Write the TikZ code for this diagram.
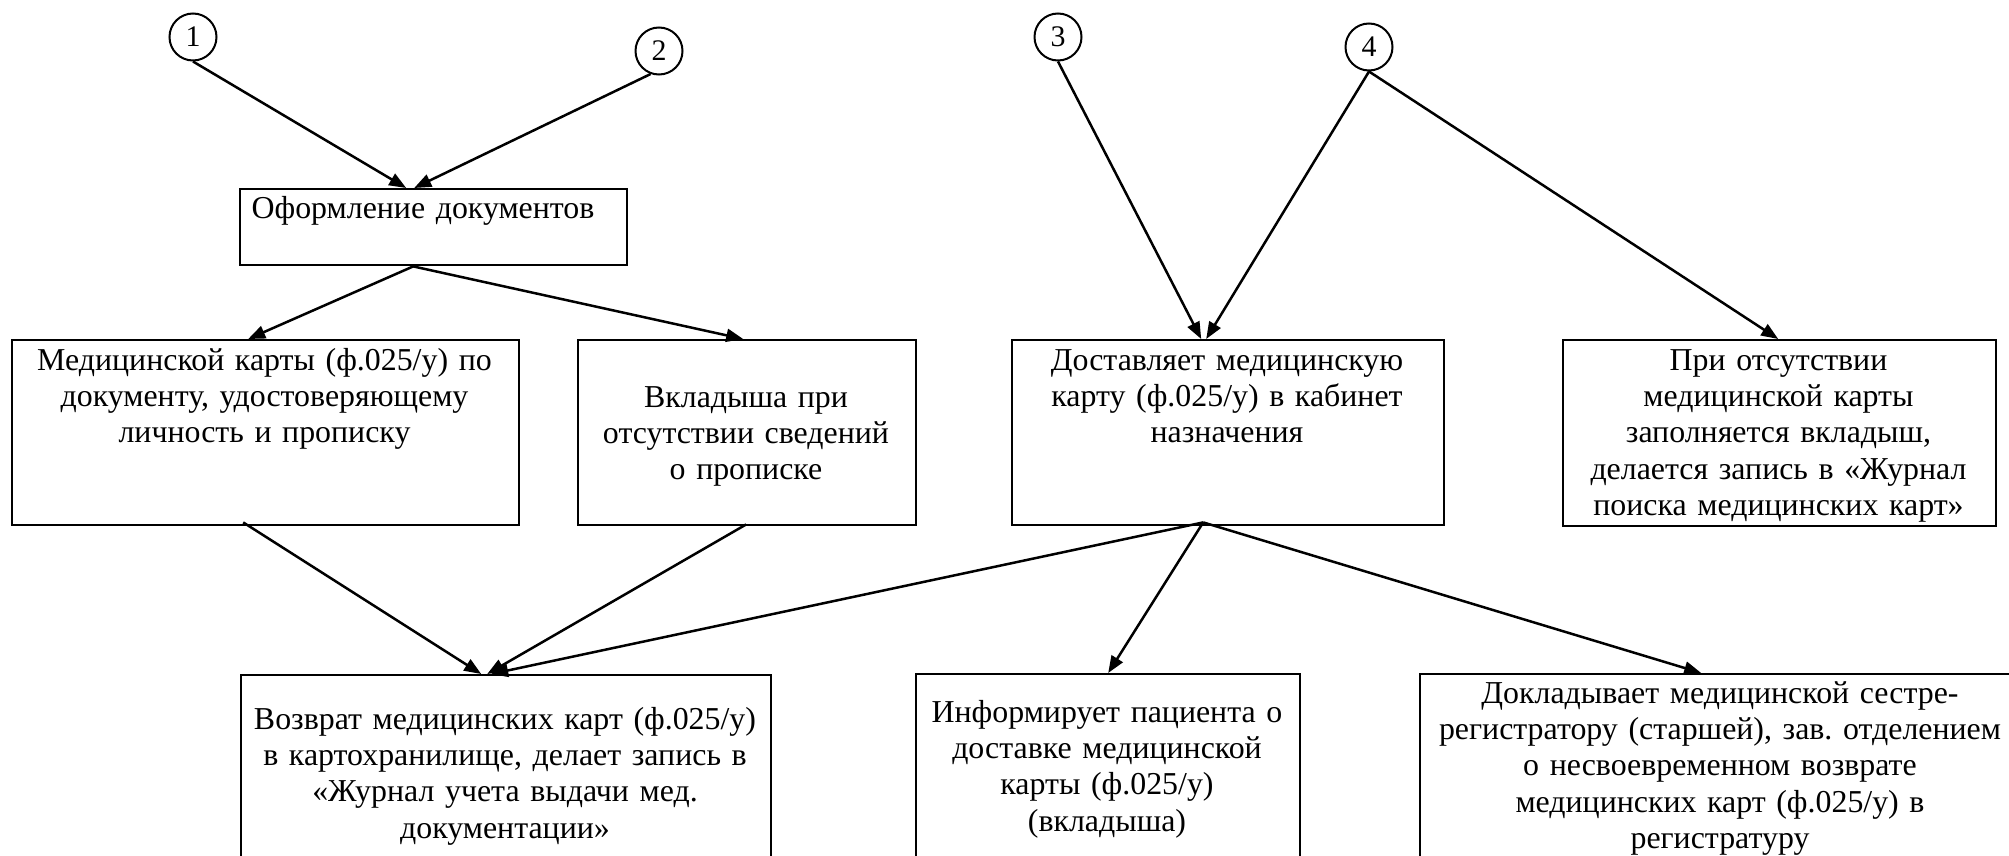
\documentclass[tikz,border=0pt]{standalone}
\usepackage{fontspec}
\setmainfont{Liberation Serif}
\usetikzlibrary{arrows.meta}
\frenchspacing
\tikzset{
  box/.style={draw, line width=2.4bp, rectangle, inner sep=0pt, anchor=north west},
  num/.style={draw, circle, line width=2bp, minimum size=47bp, inner sep=0pt, font=\fontsize{30}{33}\selectfont},
  txt/.style={anchor=base, inner sep=0pt, align=center, font=\fontsize{32}{36.6}\selectfont},
  arr/.style={line width=2.5bp, -{Triangle[length=17bp,width=13bp]}}
}
\begin{document}
\begin{tikzpicture}[x=1bp,y=-1bp]
\clip (0,0) rectangle (2009,856);
\fill[white] (0,0) rectangle (2009,856);
% circles
\node[num] (c1) at (193,37) {1};
\node[num] (c2) at (659,51) {2};
\node[num] (c3) at (1058,37) {3};
\node[num] (c4) at (1369,47) {4};
% boxes
\node[box, minimum width=387bp, minimum height=76bp] (A) at (239,188) {};
\node[box, minimum width=507bp, minimum height=185bp] (B) at (11,339) {};
\node[box, minimum width=338bp, minimum height=185bp] (C) at (577,339) {};
\node[box, minimum width=432bp, minimum height=185bp] (G) at (1011,339) {};
\node[box, minimum width=433bp, minimum height=186bp] (H) at (1562,339) {};
\node[box, minimum width=530bp, minimum height=220bp] (D) at (240,674) {};
\node[box, minimum width=384bp, minimum height=220bp] (E) at (915,673) {};
\node[box, minimum width=602bp, minimum height=220bp] (F) at (1419,673) {};
% texts
\node[txt, text width=380bp] (At) at (423,218) {Оформление документов};
\node[txt, text width=500bp] (Bt) at (264.5,370) {Медицинской карты (ф.025/у) по\\документу, удостоверяющему\\личность и прописку};
\node[txt, text width=330bp] (Ct) at (746,407) {Вкладыша при\\отсутствии сведений\\о прописке};
\node[txt, text width=425bp] (Gt) at (1227,370) {Доставляет медицинскую\\карту (ф.025/у) в кабинет\\назначения};
\node[txt, text width=425bp] (Ht) at (1778.5,370) {При отсутствии\\медицинской карты\\заполняется вкладыш,\\делается запись в «Журнал\\поиска медицинских карт»};
\node[txt, text width=525bp] (Dt) at (505,729) {Возврат медицинских карт (ф.025/у)\\в картохранилище, делает запись в\\«Журнал учета выдачи мед.\\документации»};
\node[txt, text width=380bp] (Et) at (1107,722) {Информирует пациента о\\доставке медицинской\\карты (ф.025/у)\\(вкладыша)};
\node[txt, text width=600bp] (Ft) at (1720,703) {Докладывает медицинской сестре-\\регистратору (старшей), зав. отделением\\о несвоевременном возврате\\медицинских карт (ф.025/у) в\\регистратуру};
% connectors
\draw[arr] (c1.south) -- ([xshift=-27.5bp]A.north);
\draw[arr] (c2.250) -- ([xshift=-19.5bp]A.north);
\draw[arr] ([xshift=-20.5bp]A.south) -- ([xshift=-17.5bp]B.north);
\draw[arr] ([xshift=-20.5bp]A.south) -- ([xshift=-4bp]C.north);
\draw[arr] ([xshift=-22.5bp,yshift=4bp]B.south) -- ([xshift=-25bp]D.north);
\draw[arr] ([xshift=-1bp,yshift=2bp]C.south) -- ([xshift=-19bp]D.north);
\draw[arr] ([xshift=-25bp,yshift=4bp]G.south) -- ([xshift=-15bp]D.north);
\draw[arr] ([xshift=-25bp,yshift=4bp]G.south) -- (E.north);
\draw[arr] ([xshift=-25bp,yshift=4bp]G.south) -- ([xshift=-20bp]F.north);
\draw[arr] (c3.south) -- ([xshift=-27bp]G.north);
\draw[arr] (c4.south) -- ([xshift=-22bp]G.north);
\draw[arr] (c4.south) -- ([xshift=-1.5bp]H.north);
\end{tikzpicture}
\end{document}
